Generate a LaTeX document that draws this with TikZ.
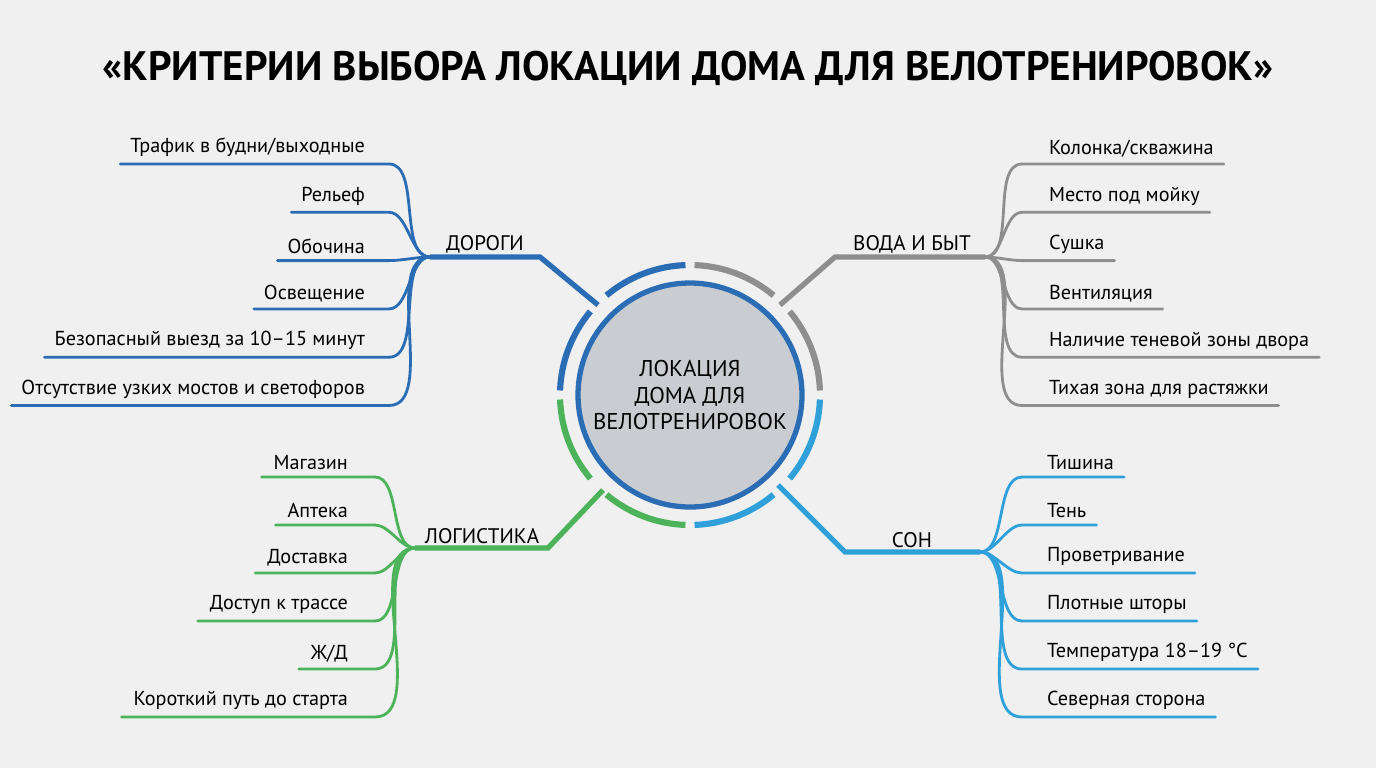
\documentclass[tikz,border=0pt]{standalone}
\usepackage{fontspec}
\setmainfont{PT Sans}
\usetikzlibrary{calc}
\definecolor{bgc}{HTML}{F0F0F0}
\definecolor{cdark}{HTML}{2A6DB5}
\definecolor{cgrey}{HTML}{8E8E8E}
\definecolor{cgreen}{HTML}{4CB35A}
\definecolor{clight}{HTML}{2FA0DA}
\definecolor{cfill}{HTML}{C9CCD0}
\tikzset{
  item/.style={inner sep=1pt, font=\fontsize{11.5}{13}\selectfont},
  branch/.style={font=\fontsize{12}{14}\selectfont, inner sep=1pt},
  link/.style={line width=1.6pt, line cap=round, looseness=0.8},
  arm/.style={line width=3pt}
}
\begin{document}
\begin{tikzpicture}[x=0.02cm, y=-0.02cm]
\fill[bgc] (0,0) rectangle (1376,768);
\useasboundingbox (0,0) rectangle (1376,768);

\node (title) at (688,68) {\bfseries\fontsize{23.4}{26}\selectfont «КРИТЕРИИ ВЫБОРА ЛОКАЦИИ ДОМА ДЛЯ ВЕЛОТРЕНИРОВОК»};

% center
\node[circle, minimum size=224*0.02cm, fill=cfill, draw=cdark, line width=3pt, align=center,
  font=\fontsize{13}{15}\selectfont] (hub) at (690,395) {ЛОКАЦИЯ\\ДОМА ДЛЯ\\ВЕЛОТРЕНИРОВОК};
\foreach \a/\c in {180/cdark, 270/cgrey, 0/clight, 90/cgreen}{
  \draw[\c, line width=3.5pt] (690,395) ++(\a+2:130) arc[start angle=\a+2, end angle=\a+40, radius=130];
  \draw[\c, line width=3.5pt] (690,395) ++(\a+50:130) arc[start angle=\a+50, end angle=\a+88, radius=130];
}

% branch hubs
\coordinate (dA) at (598,305); \coordinate (dB) at (540,257); \coordinate (dorogi) at (430,257);
\coordinate (vA) at (780,305); \coordinate (vB) at (835,257); \coordinate (voda) at (985,257);
\coordinate (lA) at (603,490); \coordinate (lB) at (548,548); \coordinate (logist) at (415,548);
\coordinate (sA) at (778,485); \coordinate (sB) at (845,552); \coordinate (son) at (980,552);
\draw[cdark, arm] (dA) -- (dB) -- (dorogi);
\draw[cgrey, arm] (vA) -- (vB) -- (voda);
\draw[cgreen, arm] (lA) -- (lB) -- (logist);
\draw[clight, arm] (sA) -- (sB) -- (son);
\node[branch, above] (ldorogi) at (485,255) {ДОРОГИ};
\node[branch, above] (lvoda) at (912,255) {ВОДА И БЫТ};
\node[branch, above] (llogist) at (482,546) {ЛОГИСТИКА};
\node[branch, above] (lson) at (912,550) {СОН};

% left top
\foreach \t [count=\i] in {Трафик в будни/выходные, Рельеф, Обочина, Освещение,
  Безопасный выезд за 10–15 минут, Отсутствие узких мостов и светофоров}{
  \node[item, anchor=south east] (d\i) at (367,{159+48.3*(\i-1)}) {\t};
  \draw[cdark, link] (dorogi) to[out=180, in=0] ($(d\i.south east)+(22,5)$) -- ($(d\i.south west)+(-8,5)$);
}
% right top
\foreach \t [count=\i] in {Колонка/скважина, Место под мойку, Сушка, Вентиляция,
  Наличие теневой зоны двора, Тихая зона для растяжки}{
  \node[item, anchor=south west] (v\i) at (1047,{159+48.3*(\i-1)}) {\t};
  \draw[cgrey, link] (voda) to[out=0, in=180] ($(v\i.south west)+(-25,5)$) -- ($(v\i.south east)+(8,5)$);
}
% left bottom
\foreach \t [count=\i] in {Магазин, Аптека, Доставка, Доступ к трассе, Ж/Д, Короткий путь до старта}{
  \node[item, anchor=south east] (l\i) at (350,{472+48*(\i-1)}) {\t};
  \draw[cgreen, link] (logist) to[out=180, in=0] ($(l\i.south east)+(25,5)$) -- ($(l\i.south west)+(-10,5)$);
}
% right bottom
\foreach \t [count=\i] in {Тишина, Тень, Проветривание, Плотные шторы, Температура 18–19 °C, Северная сторона}{
  \node[item, anchor=south west] (s\i) at (1045,{472+48*(\i-1)}) {\t};
  \draw[clight, link] (son) to[out=0, in=180] ($(s\i.south west)+(-23,5)$) -- ($(s\i.south east)+(8,5)$);
}
\end{tikzpicture}
\end{document}
